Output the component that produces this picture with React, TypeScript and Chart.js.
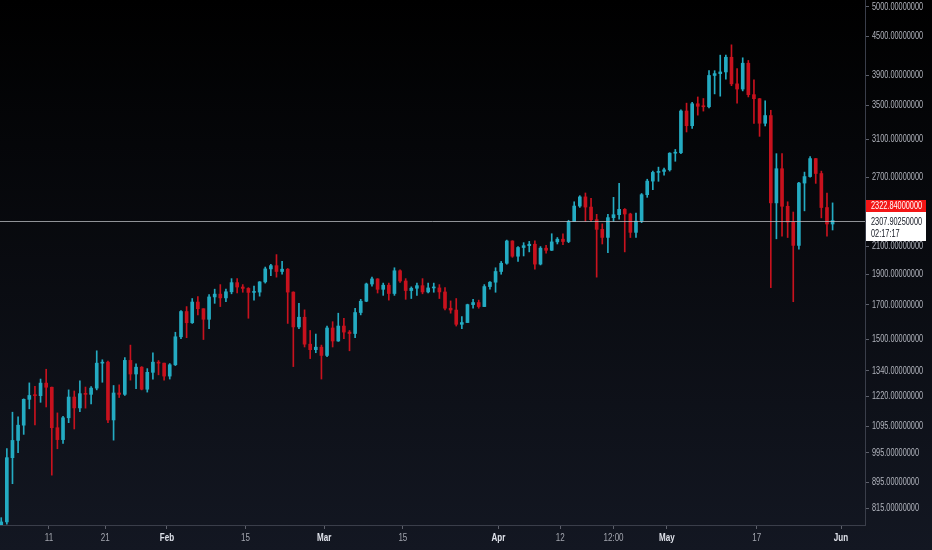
import { useEffect, useRef } from 'react'
import { Chart, registerables } from 'chart.js'
Chart.register(...registerables)

// daily candles, day numbers counted from 1 Jan 2021 (= 0); first candle is 2 Jan
const FIRST_DAY = 1
const FIRST_OPEN = 735

const closes = [
  775, 978, 1041, 1100, 1208, 1225, 1224, 1281, 1262, 1090, 1044, 1130, 1218, 1171, 1233, 1230, 1258, 1377, 1382, 1121, 1236, 1230, 1391, 1324, 1357, 1253, 1332, 1382, 1377, 1314,
  1369, 1515, 1660, 1594, 1718, 1677, 1614, 1750, 1768, 1744, 1783, 1843, 1814, 1805, 1779, 1781, 1848, 1937, 1960, 1919, 1935, 1781, 1570, 1626, 1475, 1446, 1459, 1416,
  1564, 1492, 1575, 1541, 1533, 1654, 1723, 1834, 1868, 1799, 1826, 1772, 1924, 1854, 1791, 1806, 1823, 1782, 1808, 1808, 1782, 1680, 1669, 1585, 1595, 1702, 1715, 1690, 1817, 1846, 1919,
  1977, 2143, 2028, 2093, 2107, 2118, 1971, 2088, 2072, 2136, 2157, 2139, 2299, 2432, 2514, 2423, 2315, 2235, 2171, 2332, 2357, 2403, 2363, 2211, 2303, 2534, 2662, 2747, 2757, 2773,
  2945, 2950, 3431, 3253, 3522, 3490, 3484, 3902, 3928, 3952, 4168, 3785, 3715, 4079, 3640, 3587, 3282, 3375, 2460, 2784, 2430, 2295, 2109, 2643, 2706, 2888, 2736, 2419, 2279, 2308,
]
const highs = [
  787, 1011, 1153, 1134, 1210, 1282, 1266, 1300, 1347, 1263, 1150, 1136, 1250, 1245, 1292, 1263, 1265, 1440, 1394, 1388, 1270, 1273, 1405, 1470, 1374, 1360, 1350, 1430, 1390, 1378,
  1375, 1540, 1665, 1690, 1740, 1752, 1677, 1765, 1800, 1830, 1800, 1870, 1870, 1830, 1810, 1820, 1850, 1950, 1970, 2040, 1990, 1940, 1783, 1710, 1670, 1550, 1530, 1470,
  1575, 1600, 1650, 1620, 1550, 1680, 1735, 1840, 1880, 1870, 1840, 1840, 1945, 1930, 1870, 1815, 1840, 1870, 1840, 1840, 1830, 1810, 1725, 1740, 1630, 1705, 1735, 1730, 1830, 1850, 1945,
  1990, 2150, 2145, 2100, 2130, 2140, 2145, 2100, 2110, 2200, 2170, 2200, 2310, 2470, 2525, 2550, 2500, 2360, 2280, 2360, 2510, 2640, 2410, 2370, 2370, 2545, 2680, 2760, 2800, 2790,
  2950, 2985, 3445, 3530, 3540, 3610, 3590, 3970, 3970, 4200, 4200, 4360, 4000, 4160, 4120, 3840, 3590, 3560, 3440, 2940, 2940, 2470, 2380, 2650, 2750, 2910, 2890, 2760, 2550, 2460,
]
const lows = [
  716, 769, 890, 996, 1064, 1167, 1101, 1195, 1175, 918, 1010, 1030, 1110, 1085, 1155, 1170, 1188, 1250, 1285, 1110, 1042, 1216, 1225, 1295, 1255, 1250, 1240, 1300, 1320, 1295,
  1300, 1365, 1505, 1510, 1590, 1640, 1500, 1560, 1710, 1690, 1720, 1770, 1775, 1780, 1620, 1730, 1755, 1840, 1890, 1880, 1900, 1590, 1360, 1560, 1460, 1400, 1430, 1300,
  1410, 1460, 1490, 1505, 1440, 1510, 1640, 1720, 1820, 1775, 1760, 1730, 1760, 1845, 1735, 1740, 1760, 1770, 1775, 1780, 1740, 1670, 1650, 1575, 1560, 1595, 1680, 1680, 1690, 1800, 1780,
  1900, 1970, 2020, 1990, 2030, 2060, 1935, 1965, 2050, 2070, 2120, 2115, 2130, 2300, 2420, 2300, 2300, 1880, 2120, 2055, 2300, 2320, 2060, 2170, 2170, 2290, 2510, 2580, 2660, 2720,
  2760, 2860, 2940, 3180, 3220, 3380, 3430, 3470, 3650, 3620, 3850, 3760, 3530, 3690, 3610, 3280, 3130, 3250, 1810, 2160, 2180, 2170, 1720, 2080, 2390, 2700, 2640, 2330, 2180, 2230,
]

const xTickDays = [10, 20, 31, 45, 59, 73, 90, 101, 110.5, 120, 136, 151]
const xTickLabels = ['11', '21', 'Feb', '15', 'Mar', '15', 'Apr', '12', '12:00', 'May', '17', 'Jun']
const yTicks = [5000, 4500, 3900, 3500, 3100, 2700, 2100, 1900, 1700, 1500, 1340, 1220, 1095, 995, 895, 815]

const LAST_PRICE = 2307.9025
const PREV_TAG = 2322.84
const COUNTDOWN = '02:17:17'

const UP = '#24abc2'
const DOWN = '#c8121e'
const FONT = "'Liberation Sans', Arial, sans-serif"
const NARROW = 0.7
const MONTHS = new Set(['Feb', 'Mar', 'Apr', 'May', 'Jun'])

function narrowText(ctx: CanvasRenderingContext2D, text: string, x: number, y: number) {
  ctx.save()
  ctx.translate(x, y)
  ctx.scale(NARROW, 1)
  ctx.fillText(text, 0, 0)
  ctx.restore()
}

const background = {
  id: 'background',
  beforeDraw(chart: Chart) {
    const { ctx, width, height } = chart
    const g = ctx.createLinearGradient(0, 0, 0, height)
    g.addColorStop(0, '#000000')
    g.addColorStop(1, '#131722')
    ctx.save()
    ctx.fillStyle = g
    ctx.fillRect(0, 0, width, height)
    ctx.restore()
  },
}

// axis labels in a condensed face, plus the last-price line and its tags
const axisText = {
  id: 'axisText',
  afterDraw(chart: Chart) {
    const { ctx, chartArea } = chart
    const ys = chart.scales.y
    const xs = chart.scales.x
    const x = chartArea.right + 1
    ctx.save()
    ctx.textBaseline = 'middle'

    ctx.font = `10.5px ${FONT}`
    ctx.textAlign = 'left'
    ctx.fillStyle = '#b2b5be'
    yTicks.forEach(v => narrowText(ctx, v.toFixed(8), x + 6, ys.getPixelForValue(v)))

    ctx.textAlign = 'center'
    xTickDays.forEach((d, i) => {
      const month = MONTHS.has(xTickLabels[i])
      ctx.font = `${month ? 'bold ' : ''}11.5px ${FONT}`
      ctx.fillStyle = month ? '#e0e3eb' : '#a3a6af'
      narrowText(ctx, xTickLabels[i], xs.getPixelForValue(d), chartArea.bottom + 13)
    })

    const y = Math.round(ys.getPixelForValue(LAST_PRICE))
    ctx.strokeStyle = 'rgba(190,192,198,0.75)'
    ctx.lineWidth = 1
    ctx.beginPath()
    ctx.moveTo(chartArea.left, y + 0.5)
    ctx.lineTo(chartArea.right, y + 0.5)
    ctx.stroke()

    const w = 60
    ctx.fillStyle = '#f41616'
    ctx.fillRect(x, y - 21, w, 12)
    ctx.fillStyle = '#ffffff'
    ctx.fillRect(x, y - 9, w, 29)
    ctx.font = `10.5px ${FONT}`
    ctx.textAlign = 'left'
    ctx.fillStyle = '#ffffff'
    narrowText(ctx, PREV_TAG.toFixed(8), x + 5, y - 15)
    ctx.fillStyle = '#131722'
    narrowText(ctx, LAST_PRICE.toFixed(8), x + 5, y + 1)
    narrowText(ctx, COUNTDOWN, x + 5, y + 13)
    ctx.restore()
  },
}

export default function App() {
  const canvasRef = useRef<HTMLCanvasElement>(null)

  useEffect(() => {
    document.body.style.margin = '0'
    document.body.style.background = '#000'
    if (!canvasRef.current) return

    const opens = closes.map((c, i) => (i === 0 ? FIRST_OPEN : closes[i - 1]))
    const days = closes.map((_, i) => FIRST_DAY + i + 0.5)
    const colour = (i: number) => (closes[i] >= opens[i] ? UP : DOWN)

    const chart = new Chart(canvasRef.current, {
      type: 'bar',
      data: {
        datasets: [
          {
            data: days.map((d, i) => ({ x: d, y: [lows[i], highs[i]] })) as any,
            backgroundColor: (c: any) => colour(c.dataIndex),
            barThickness: 1,
            grouped: false,
            borderWidth: 0,
          },
          {
            data: days.map((d, i) => ({ x: d, y: [opens[i], closes[i]] })) as any,
            backgroundColor: (c: any) => colour(c.dataIndex),
            barThickness: 3,
            grouped: false,
            borderWidth: 0,
            minBarLength: 1,
          },
        ],
      },
      plugins: [background, axisText],
      options: {
        responsive: true,
        maintainAspectRatio: false,
        animation: false,
        layout: { padding: 0 },
        plugins: { legend: { display: false }, tooltip: { enabled: false } },
        scales: {
          x: {
            type: 'linear',
            min: 1.28,
            max: 155.27,
            offset: false,
            afterBuildTicks: (s: any) => { s.ticks = xTickDays.map(v => ({ value: v })) },
            afterFit: (s: any) => { s.height = 25; s.paddingLeft = 0; s.paddingRight = 0 },
            grid: { drawOnChartArea: false, offset: false, color: '#5d606b', tickLength: 4 },
            border: { color: '#3a3e4a' },
            ticks: {
              autoSkip: false,
              maxRotation: 0,
              padding: 2,
              color: 'rgba(0,0,0,0)',
              font: { family: FONT, size: 11 },
              callback: (v: any) => xTickLabels[xTickDays.indexOf(Number(v))] ?? '',
            },
          },
          y: {
            type: 'logarithmic',
            position: 'right',
            min: 766.4,
            max: 5128,
            afterBuildTicks: (s: any) => { s.ticks = yTicks.map(v => ({ value: v })) },
            afterFit: (s: any) => { s.width = 67; s.paddingTop = 0; s.paddingBottom = 0 },
            grid: { drawOnChartArea: false, color: '#5d606b', tickLength: 4 },
            border: { color: '#3a3e4a' },
            ticks: {
              padding: 2,
              color: 'rgba(0,0,0,0)',
              font: { family: FONT, size: 10 },
              callback: (v: any) => Number(v).toFixed(8),
            },
          },
        },
      },
    })
    return () => { chart.destroy() }
  }, [])

  return (
    <div style={{ width: 932, height: 550, position: 'relative' }}>
      <canvas ref={canvasRef} />
    </div>
  )
}
